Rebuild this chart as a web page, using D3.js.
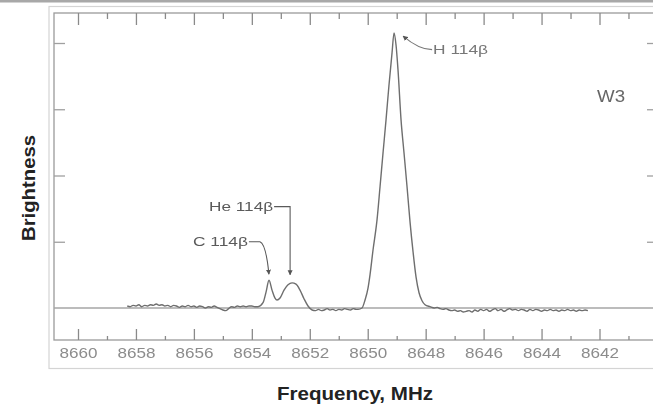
<!DOCTYPE html>
<html><head><meta charset="utf-8">
<script src="https://cdn.jsdelivr.net/npm/d3@7"></script>
<style>
html,body{margin:0;padding:0;background:#fff;}
svg{display:block;}
</style></head>
<body>
<script>
// ---------------- data ----------------
const freqMHz = [
 8658.3,8658.2,8658.1,8658.0,8657.9,8657.8,8657.7,8657.6,8657.5,8657.4,8657.3,8657.2,8657.1,8657.0,
 8656.9,8656.8,8656.7,8656.6,8656.5,8656.4,8656.3,8656.2,8656.1,8656.0,8655.9,8655.8,8655.7,8655.6,
 8655.5,8655.4,8655.3,8655.2,8655.1,8655.0,8654.9,8654.8,8654.7,8654.6,8654.5,8654.4,8654.3,8654.2,
 8654.1,8654.0,8653.9,
 8653.787,8653.614,8653.510,8653.407,8653.303,8653.200,8653.131,8653.027,8652.889,8652.751,8652.613,
 8652.475,8652.337,8652.199,8652.061,
 8651.92,8651.8,8651.7,8651.6,8651.5,8651.4,8651.3,8651.2,8651.1,8651.0,8650.9,8650.8,8650.7,8650.6,
 8650.5,8650.4,
 8650.335,8650.197,8650.093,8649.990,8649.921,8649.817,8649.679,8649.575,8649.472,8649.368,8649.265,
 8649.161,8649.092,8649.023,8648.954,8648.850,8648.747,8648.643,8648.540,8648.436,8648.333,8648.229,
 8648.126,8648.022,8647.850,
 8647.7,8647.6,8647.5,8647.4,8647.3,8647.2,8647.1,8647.0,8646.9,8646.8,8646.7,8646.6,8646.5,8646.4,
 8646.3,8646.2,8646.1,8646.0,8645.9,8645.8,8645.7,8645.6,8645.5,8645.4,8645.3,8645.2,8645.1,8645.0,
 8644.9,8644.8,8644.7,8644.6,8644.5,8644.4,8644.3,8644.2,8644.1,8644.0,8643.9,8643.8,8643.7,8643.6,
 8643.5,8643.4,8643.3,8643.2,8643.1,8643.0,8642.9,8642.8,8642.7,8642.6,8642.5,8642.4
];
const brightness = [
 0.03,0.02,0.04,0.03,0.05,0.02,0.04,0.03,0.05,0.04,0.06,0.04,0.05,0.03,
 0.04,0.02,0.04,0.03,0.01,0.03,0.02,0.04,0.02,0.03,0.01,0.03,0.02,0.00,
 0.02,0.01,0.03,0.01,-0.01,-0.03,-0.04,-0.01,0.02,0.01,0.03,0.02,0.03,0.02,
 0.03,0.03,0.02,
 0.02,0.08,0.24,0.42,0.27,0.15,0.12,0.15,0.27,0.35,0.38,
 0.36,0.27,0.14,0.03,
 -0.03,-0.04,-0.02,-0.04,-0.03,-0.01,-0.03,-0.02,-0.04,-0.02,-0.03,-0.01,-0.02,-0.03,
 -0.01,-0.02,
 -0.02,0.00,0.12,0.30,0.50,0.875,1.33,1.83,2.34,2.84,3.37,
 3.85,4.15,3.97,3.59,2.84,2.34,1.83,1.30,0.85,0.47,0.23,
 0.11,0.05,0.02,
 0.00,0.01,-0.01,-0.02,-0.01,-0.03,-0.04,-0.03,-0.05,-0.04,-0.06,-0.05,-0.04,-0.06,
 -0.03,-0.05,-0.02,-0.04,-0.02,-0.05,-0.03,-0.01,-0.04,-0.02,-0.05,-0.03,-0.01,-0.03,
 -0.02,-0.04,-0.02,-0.03,-0.05,-0.02,-0.04,-0.02,-0.03,-0.05,-0.03,-0.04,-0.02,-0.04,
 -0.03,-0.05,-0.03,-0.04,-0.02,-0.04,-0.03,-0.05,-0.03,-0.04,-0.03,-0.04
];
const majorTicks = [8660,8658,8656,8654,8652,8650,8648,8646,8644,8642];
const minorTicks = [8659,8657,8655,8653,8651,8649,8647,8645,8643,8641];
const brightnessTicks = [1,2,3,4];
const lineNames = ["C 114β","He 114β","H 114β"];
const lineFreqs = [8653.41, 8652.61, 8649.09];
const linePeaks = [0.42, 0.38, 4.15];
const sourceName = "W3";
const xTitle = "Frequency, MHz";
const yTitle = "Brightness";

// ---------------- layout ----------------
const W = 653, H = 408;
const frame = {left:54, right:656, top:13, bottom:340};

const svg = d3.select("body").append("svg").attr("width", W).attr("height", H);
const defs = svg.append("defs");
defs.append("filter").attr("id","scan").attr("x","-5%").attr("y","-5%").attr("width","110%").attr("height","110%")
  .append("feGaussianBlur").attr("stdDeviation", 0.55);
const marker = defs.append("marker").attr("id","arrow").attr("viewBox","0 0 10 10")
  .attr("refX",9).attr("refY",5).attr("markerWidth",5).attr("markerHeight",6).attr("orient","auto")
  .attr("markerUnits","userSpaceOnUse");
marker.append("path").attr("d","M0,0 L10,5 L0,10 z").attr("fill","#555");

const x = d3.scaleLinear().domain([8660, 8642]).range([78, 599.5]);
const y = d3.scaleLinear().domain([0, 4]).range([308, 43]);

// top gray bar of the page
svg.append("rect").attr("x",0).attr("y",0).attr("width",W).attr("height",2.5).attr("fill","#a8a8a8");

const g = svg.append("g").attr("filter","url(#scan)");

// scan border
g.append("rect").attr("x",49).attr("y",6.5).attr("width",W).attr("height",362)
  .attr("fill","none").attr("stroke","#d4d4d4").attr("stroke-width",1.2);

// plot frame
g.append("rect").attr("x",frame.left).attr("y",frame.top)
  .attr("width",frame.right-frame.left).attr("height",frame.bottom-frame.top)
  .attr("fill","none").attr("stroke","#9a9a9a").attr("stroke-width",1.3);

function styleAxis(sel, col){
  sel.select(".domain").remove();
  sel.selectAll(".tick line").attr("stroke", col).attr("stroke-width",1.3);
}

// bottom axis
const bMaj = g.append("g").attr("transform",`translate(0,${frame.bottom})`)
  .call(d3.axisBottom(x).tickValues(majorTicks).tickSize(-11).tickSizeOuter(0).tickPadding(7).tickFormat(d3.format("d")));
styleAxis(bMaj,"#8a8a8a");
bMaj.selectAll(".tick text").attr("fill","#8c8c8c").attr("font-family","Liberation Sans, Arial, sans-serif")
  .attr("font-size",15).attr("textLength",38).attr("lengthAdjust","spacingAndGlyphs");
const bMin = g.append("g").attr("transform",`translate(0,${frame.bottom})`)
  .call(d3.axisBottom(x).tickValues(minorTicks).tickSize(-4).tickSizeOuter(0).tickFormat(""));
styleAxis(bMin,"#8a8a8a");

// top axis
const tMaj = g.append("g").attr("transform",`translate(0,${frame.top})`)
  .call(d3.axisTop(x).tickValues(majorTicks).tickSize(-12).tickSizeOuter(0).tickFormat(""));
styleAxis(tMaj,"#8a8a8a");
const tMin = g.append("g").attr("transform",`translate(0,${frame.top})`)
  .call(d3.axisTop(x).tickValues(minorTicks).tickSize(-6).tickSizeOuter(0).tickFormat(""));
styleAxis(tMin,"#8a8a8a");

// left / right axes
const lAx = g.append("g").attr("transform",`translate(${frame.left},0)`)
  .call(d3.axisLeft(y).tickValues(brightnessTicks).tickSize(-11).tickSizeOuter(0).tickFormat(""));
styleAxis(lAx,"#a0a0a0");
const rAx = g.append("g").attr("transform",`translate(${frame.right},0)`)
  .call(d3.axisRight(y).tickValues(brightnessTicks).tickSize(-9).tickSizeOuter(0).tickFormat(""));
styleAxis(rAx,"#a0a0a0");

// baseline (zero level)
g.append("line").attr("x1",frame.left).attr("x2",frame.right)
  .attr("y1",y(0)).attr("y2",y(0)).attr("stroke","#a6a6a6").attr("stroke-width",1.3);

// spectrum
const pts = freqMHz.map((f,i)=>[f, brightness[i]]);
g.append("path").datum(pts)
  .attr("d", d3.line().x(d=>x(d[0])).y(d=>y(d[1])).curve(d3.curveMonotoneX))
  .attr("fill","none").attr("stroke","#6e6e6e").attr("stroke-width",1.4).attr("stroke-linejoin","round");

// annotations
const lab = {fam:"Liberation Sans, Arial, sans-serif", col:"#5a5a5a"};
// C 114β
{
  const px = x(lineFreqs[0]), py = y(linePeaks[0]);
  const ty = y(1) ;
  g.append("text").attr("x",px-21).attr("y",ty+4).attr("text-anchor","end")
    .attr("font-family",lab.fam).attr("font-size",12).attr("fill",lab.col)
    .attr("textLength",55).attr("lengthAdjust","spacingAndGlyphs").text(lineNames[0]);
  g.append("path").attr("d",`M${px-20},${ty} L${px-9},${ty} Q${px-3},${ty+2} ${px},${py-6}`)
    .attr("fill","none").attr("stroke","#5a5a5a").attr("stroke-width",1.1).attr("marker-end","url(#arrow)");
}
// He 114β
{
  const px = x(lineFreqs[1]) - 2, py = y(linePeaks[1]);
  const ty = y(1.53);
  g.append("text").attr("x",px-17).attr("y",ty+4).attr("text-anchor","end")
    .attr("font-family",lab.fam).attr("font-size",12).attr("fill",lab.col)
    .attr("textLength",64).attr("lengthAdjust","spacingAndGlyphs").text(lineNames[1]);
  g.append("path").attr("d",`M${px-16},${ty} L${px},${ty} L${px},${py-8}`)
    .attr("fill","none").attr("stroke","#5a5a5a").attr("stroke-width",1.1).attr("marker-end","url(#arrow)");
}
// H 114β
{
  const px = x(lineFreqs[2]), py = y(linePeaks[2]);
  const tx = px + 39, ty = y(3.9);
  g.append("text").attr("x",tx).attr("y",ty+4)
    .attr("font-family",lab.fam).attr("font-size",12).attr("fill","#777")
    .attr("textLength",55).attr("lengthAdjust","spacingAndGlyphs").text(lineNames[2]);
  g.append("path").attr("d",`M${tx-1},${ty} Q${tx-14},${ty} ${px+9},${py+3}`)
    .attr("fill","none").attr("stroke","#777").attr("stroke-width",1.1).attr("marker-end","url(#arrow)");
}
// W3
g.append("text").attr("x",x(8641.6)).attr("y",y(3.2)+6).attr("text-anchor","middle")
  .attr("font-family",lab.fam).attr("font-size",16).attr("fill","#666")
  .attr("textLength",28).attr("lengthAdjust","spacingAndGlyphs").text(sourceName);

// axis titles
svg.append("text").attr("x",355).attr("y",400).attr("text-anchor","middle")
  .attr("font-family","Liberation Sans, Arial, sans-serif").attr("font-weight","bold")
  .attr("font-size",18).attr("fill","#222")
  .attr("textLength",156).attr("lengthAdjust","spacingAndGlyphs").text(xTitle);
svg.append("text").attr("transform",`translate(35,188) rotate(-90)`).attr("text-anchor","middle")
  .attr("font-family","Liberation Sans, Arial, sans-serif").attr("font-weight","bold")
  .attr("font-size",18).attr("fill","#222")
  .attr("textLength",106).attr("lengthAdjust","spacingAndGlyphs").text(yTitle);
</script>
</body></html>
